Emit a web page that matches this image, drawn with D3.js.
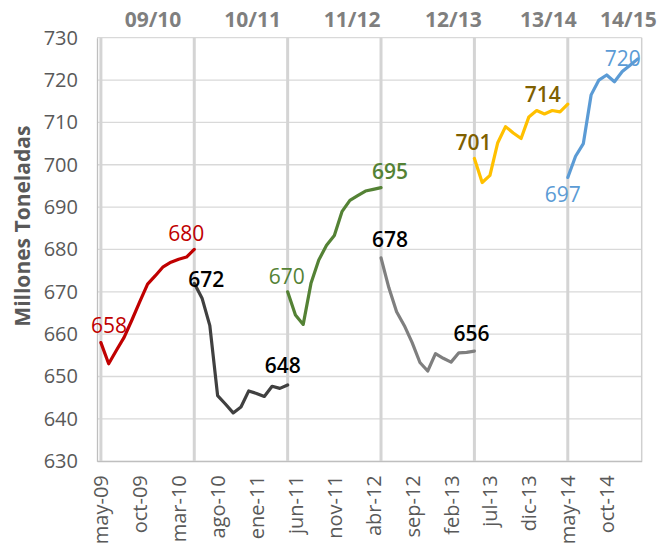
<!DOCTYPE html>
<html>
<head>
<meta charset="utf-8">
<script src="https://cdn.jsdelivr.net/npm/d3@7"></script>
<style>
  body { margin: 0; background: #fff; }
  text { font-family: "Open Sans", sans-serif; }
</style>
</head>
<body>
<script>
// DATA
const startYear = 2009, startMonth = 4;   // may-09
const monthNames = ['ene','feb','mar','abr','may','jun','jul','ago','sep','oct','nov','dic'];
const tickLabels = ['may-09','oct-09','mar-10','ago-10','ene-11','jun-11','nov-11','abr-12','sep-12','feb-13','jul-13','dic-13','may-14','oct-14'];
const seasons = ['09/10','10/11','11/12','12/13','13/14','14/15'];

// monthly estimates of each season, starting in May of the first year
const s0910 = [658, 653, 656.2, 659.3, 663.4, 667.7, 671.8, 673.8, 675.9, 677, 677.7, 678.2, 680];
const s1011 = [672, 668.5, 662, 645.5, 643.5, 641.4, 642.8, 646.6, 646, 645.3, 647.7, 647.2, 648];
const s1112 = [670, 664.5, 662.3, 672, 677.5, 681, 683.3, 689, 691.6, 692.7, 693.8, 694.2, 694.6];
const s1213 = [678, 671, 665.3, 662, 658, 653.3, 651.3, 655.4, 654.3, 653.4, 655.6, 655.7, 656];
const s1314 = [701.5, 695.8, 697.5, 705.2, 709, 707.5, 706.2, 711.3, 712.8, 712, 712.8, 712.5, 714.3];
const s1415 = [697, 702, 705, 716.5, 720, 721.2, 719.6, 722, 723.5, 725];
const seriesValues = [s0910, s1011, s1112, s1213, s1314, s1415];
const startLabels = ['658','672','670','678','701','697'];
const endLabels = ['680','648','695','656','714','720'];

// STYLES / LAYOUT
const lineColors = ['#C00000','#404040','#548235','#7F7F7F','#FFC000','#5B9BD5'];
const labelColors = ['#C00000','#000000','#548235','#000000','#7F6000','#5B9BD5'];
const startWeight = [500, 600, 500, 600, 600, 500];
const endWeight = [500, 600, 600, 600, 600, 500];
const startOffset = [[8,-10],[12,4],[-1,-8],[9,-11],[-1,-8],[-5,25]];
const endOffset = [[-8,-8],[-5,-12],[9,-9],[-3,-10],[-25,-2],[-15,7]];
const seasonLabelAt = [6.7, 19.5, 32.3, 45.3, 57.5, 67.8];

const W = 658, H = 548;
const margin = {top: 37.7, right: 16.3, bottom: 86.8, left: 97};
const width = W - margin.left - margin.right;
const height = H - margin.top - margin.bottom;
const nMonths = 70;

const categories = d3.range(nMonths).map(i => {
  const m = (startMonth + i) % 12;
  const y = startYear + Math.floor((startMonth + i) / 12);
  return monthNames[m] + '-' + String(y).slice(2);
});

const svg = d3.select("body").append("svg")
  .attr("width", W).attr("height", H)
  .append("g")
  .attr("transform", `translate(${margin.left},${margin.top})`);

const x = d3.scalePoint()
  .domain(categories)
  .range([0, width])
  .padding(0.5);

const y = d3.scaleLinear()
  .domain([630, 730])
  .range([height, 0]);

const step = x.step();
const xi = i => x(categories[0]) + i * step;

// HORIZONTAL GRID
svg.append("g")
  .selectAll("line")
  .data(y.ticks(10))
  .join("line")
  .attr("x1", 0).attr("x2", width)
  .attr("y1", d => y(d)).attr("y2", d => y(d))
  .attr("stroke", "#d9d9d9")
  .attr("stroke-width", 1.3);

// SEASON SEPARATORS
svg.append("g")
  .selectAll("line")
  .data(seasons)
  .join("line")
  .attr("x1", (d, i) => xi(i * 12)).attr("x2", (d, i) => xi(i * 12))
  .attr("y1", 0).attr("y2", height)
  .attr("stroke", "#d4d4d4")
  .attr("stroke-width", 3);

// right border
svg.append("line")
  .attr("x1", width).attr("x2", width)
  .attr("y1", 0).attr("y2", height)
  .attr("stroke", "#d0d0d0").attr("stroke-width", 1.5);

// Y AXIS
const yAxis = svg.append("g")
  .call(d3.axisLeft(y).ticks(10).tickSize(0).tickPadding(19));
yAxis.select(".domain").attr("stroke", "#bfbfbf").attr("stroke-width", 1.3);
yAxis.selectAll("text")
  .style("font-size", "20px")
  .style("font-family", "'Open Sans', sans-serif")
  .attr("fill", "#595959");

// X AXIS
const xAxis = svg.append("g")
  .attr("transform", `translate(0,${height})`)
  .call(d3.axisBottom(x).tickValues(tickLabels).tickSize(0).tickPadding(0));
xAxis.select(".domain").attr("stroke", "#bfbfbf").attr("stroke-width", 1.3);
xAxis.selectAll("text")
  .style("font-size", "20px")
  .style("font-family", "'Open Sans', sans-serif")
  .attr("fill", "#595959")
  .style("text-anchor", "end")
  .attr("transform", "rotate(-90)")
  .attr("x", -14)
  .attr("y", 0)
  .attr("dy", "0.35em");

// Y TITLE
svg.append("text")
  .attr("transform", "rotate(-90)")
  .attr("x", -(y(660.5) + y(710.5)) / 2)
  .attr("y", -margin.left + 30)
  .attr("text-anchor", "middle")
  .style("font-size", "21px")
  .style("font-weight", 700)
  .attr("fill", "#595959")
  .text("Millones Toneladas");

// SEASON TITLES
svg.append("g")
  .selectAll("text")
  .data(seasons)
  .join("text")
  .attr("x", (d, i) => xi(seasonLabelAt[i]))
  .attr("y", 27 - margin.top)
  .attr("text-anchor", "middle")
  .style("font-size", "21px")
  .style("font-weight", 700)
  .attr("fill", "#7F7F7F")
  .text(d => d);

// LINES
const line = d3.line()
  .x(d => xi(d.i))
  .y(d => y(d.v));

seriesValues.forEach((vals, s) => {
  const pts = vals.map((v, k) => ({i: s * 12 + k, v: v}));
  svg.append("path")
    .datum(pts)
    .attr("fill", "none")
    .attr("stroke", lineColors[s])
    .attr("stroke-width", 3.2)
    .attr("stroke-linejoin", "round")
    .attr("stroke-linecap", "round")
    .attr("d", line);

  const first = pts[0], last = pts[pts.length - 1];
  svg.append("text")
    .attr("x", xi(first.i) + startOffset[s][0])
    .attr("y", y(first.v) + startOffset[s][1])
    .attr("text-anchor", "middle")
    .style("font-size", "21px")
    .style("font-weight", startWeight[s])
    .attr("fill", labelColors[s])
    .text(startLabels[s]);
  svg.append("text")
    .attr("x", xi(last.i) + endOffset[s][0])
    .attr("y", y(last.v) + endOffset[s][1])
    .attr("text-anchor", "middle")
    .style("font-size", "21px")
    .style("font-weight", endWeight[s])
    .attr("fill", labelColors[s])
    .text(endLabels[s]);
});
</script>
</body>
</html>
